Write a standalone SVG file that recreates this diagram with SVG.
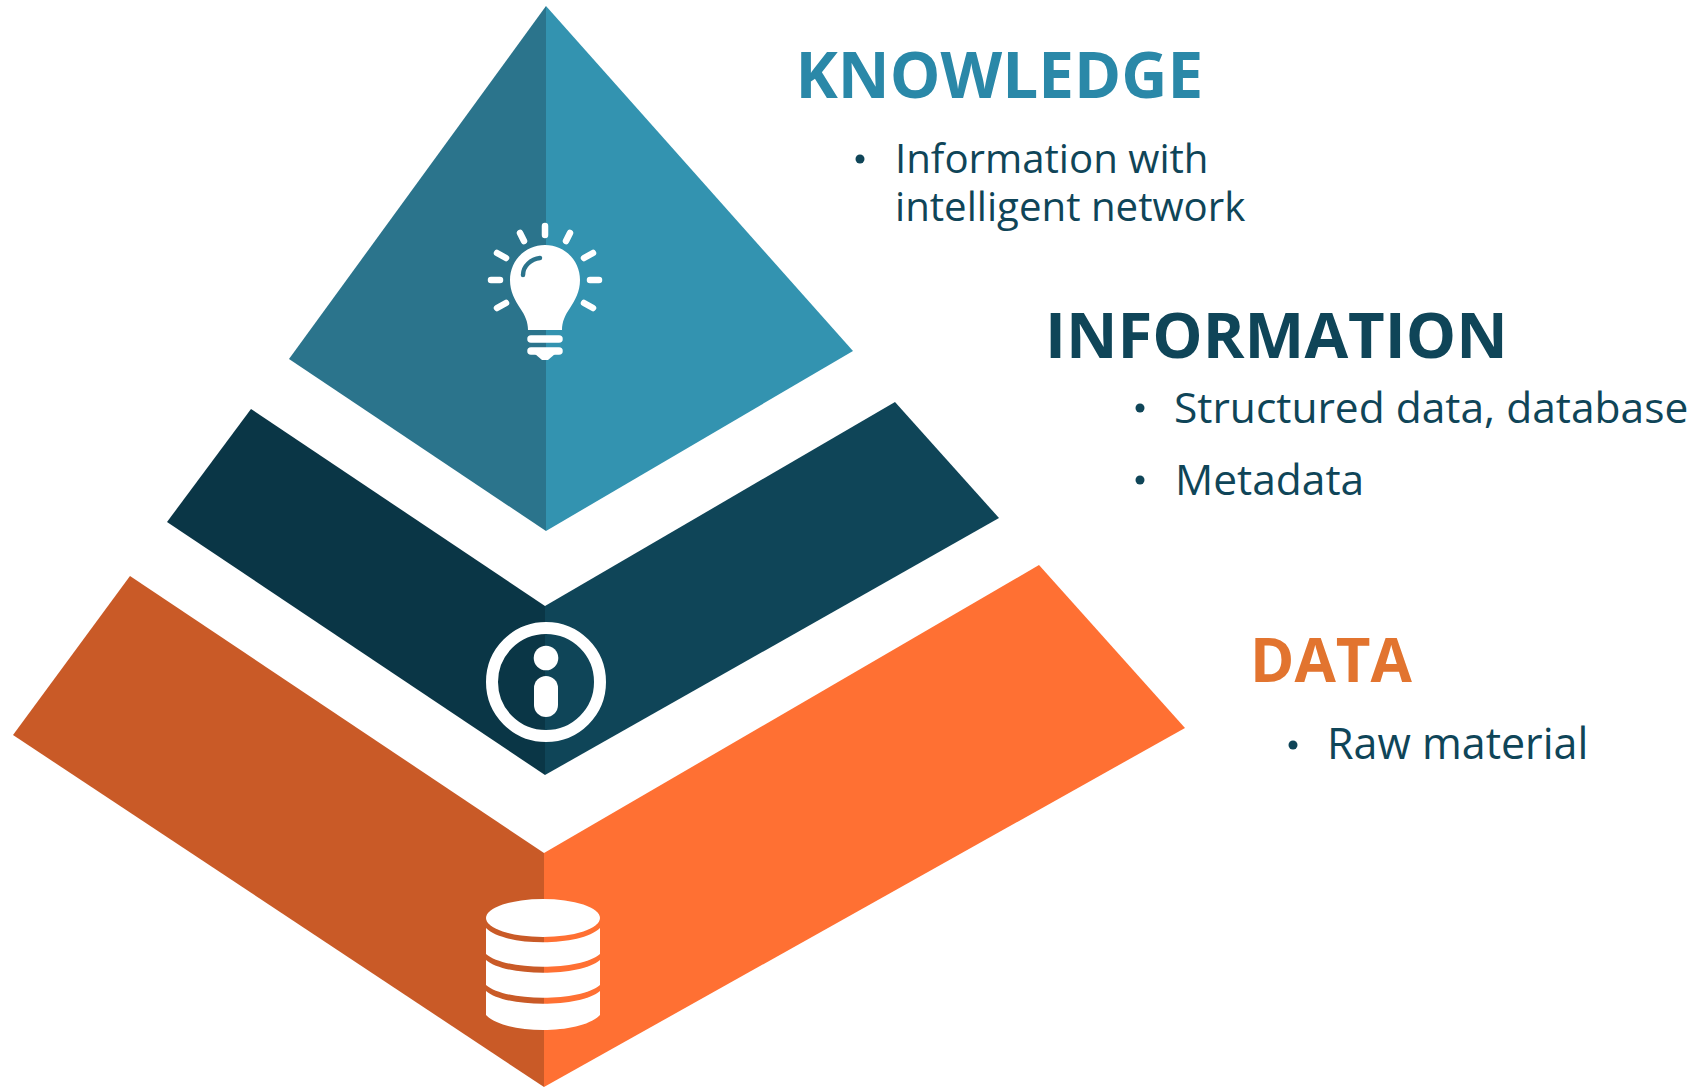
<svg xmlns="http://www.w3.org/2000/svg" width="1696" height="1087" viewBox="0 0 1696 1087">
<style>
text{font-family:"Open Sans","Noto Sans",sans-serif}
.h{font-weight:700}
.b{fill:#0f4558}
.w{fill:#fff}
.s{fill:none;stroke:#fff;stroke-linecap:round}
</style>
<rect width="1696" height="1087" fill="#fff"/>
<g id="knowledge">
<polygon points="546,6 546,531 289,359" fill="#2b748c"/>
<polygon points="546,6 853,351 546,531" fill="#3393b0"/>
<g id="bulb">
<path class="w" d="M545 245c-20 0-35 16-35 35 0 12 5 20 10 28 5 7 8 14 8 22h34c0-8 3-15 8-22 5-8 10-16 10-28 0-19-15-35-35-35z"/>
<path fill="none" stroke="#2b748c" stroke-linecap="round" stroke-width="4.5" d="M523 275c0-9 8-16 17-17"/>
<path class="s" stroke-width="6.5" d="M545 226v9M520 233l4 8M497 253l9 5M491 280h9M497 308l9-5M570 233l-4 8M593 253l-9 5M599 280h-9M593 308l-9-5"/>
<path class="s" stroke-width="7.5" d="M531 339h28M531 351h28"/>
<path class="w" d="M535 354h20l-7 6h-6z"/>
</g>
<text class="h" x="795.5" y="98" font-size="63.8" fill="#2a88a8">KNOWLEDGE</text>
<circle cx="860" cy="159" r="4.5" fill="#0f4558"/>
<text class="b" x="895" y="173" font-size="40.2">Information with</text>
<text class="b" x="895" y="221" font-size="40.2">intelligent network</text>
</g>
<g id="information">
<polygon points="251,409 545,606 545,775 167,522" fill="#0a3646"/>
<polygon points="545,606 895,402 999,518 545,775" fill="#0f4558"/>
<g id="info-icon">
<circle cx="546" cy="682" r="54" fill="none" stroke="#fff" stroke-width="12"/>
<circle cx="546" cy="658" r="12.3" class="w"/>
<rect x="534" y="676" width="24" height="41" rx="12" class="w"/>
</g>
<text class="h" x="1045" y="358" font-size="63.4" fill="#0f4558">INFORMATION</text>
<circle cx="1140" cy="408" r="4.5" fill="#0f4558"/>
<text class="b" x="1174" y="423" font-size="42.5">Structured data, database</text>
<circle cx="1140" cy="480" r="4.5" fill="#0f4558"/>
<text class="b" x="1175" y="495" font-size="42.5">Metadata</text>
</g>
<g id="data">
<polygon points="130,576 544,853 544,1087 13,735" fill="#c95a27"/>
<polygon points="544,853 1039,565 1185,728 544,1087" fill="#ff7033"/>
<g id="db-icon">
<ellipse cx="543" cy="918" rx="57" ry="19" class="w"/>
<path class="w" d="M486 928C505 947 581 947 600 928V954C581 971 505 971 486 954Z"/>
<path class="w" d="M486 960C505 977 581 977 600 960V985C581 1002 505 1002 486 985Z"/>
<path class="w" d="M486 991C505 1008 581 1008 600 991V1015C581 1035 505 1035 486 1015Z"/>
</g>
<text class="h" x="1250" y="682" font-size="60" fill="#e2742f">DATA</text>
<circle cx="1293" cy="745" r="4.5" fill="#0f4558"/>
<text class="b" x="1327" y="759" font-size="43">Raw material</text>
</g>
</svg>
